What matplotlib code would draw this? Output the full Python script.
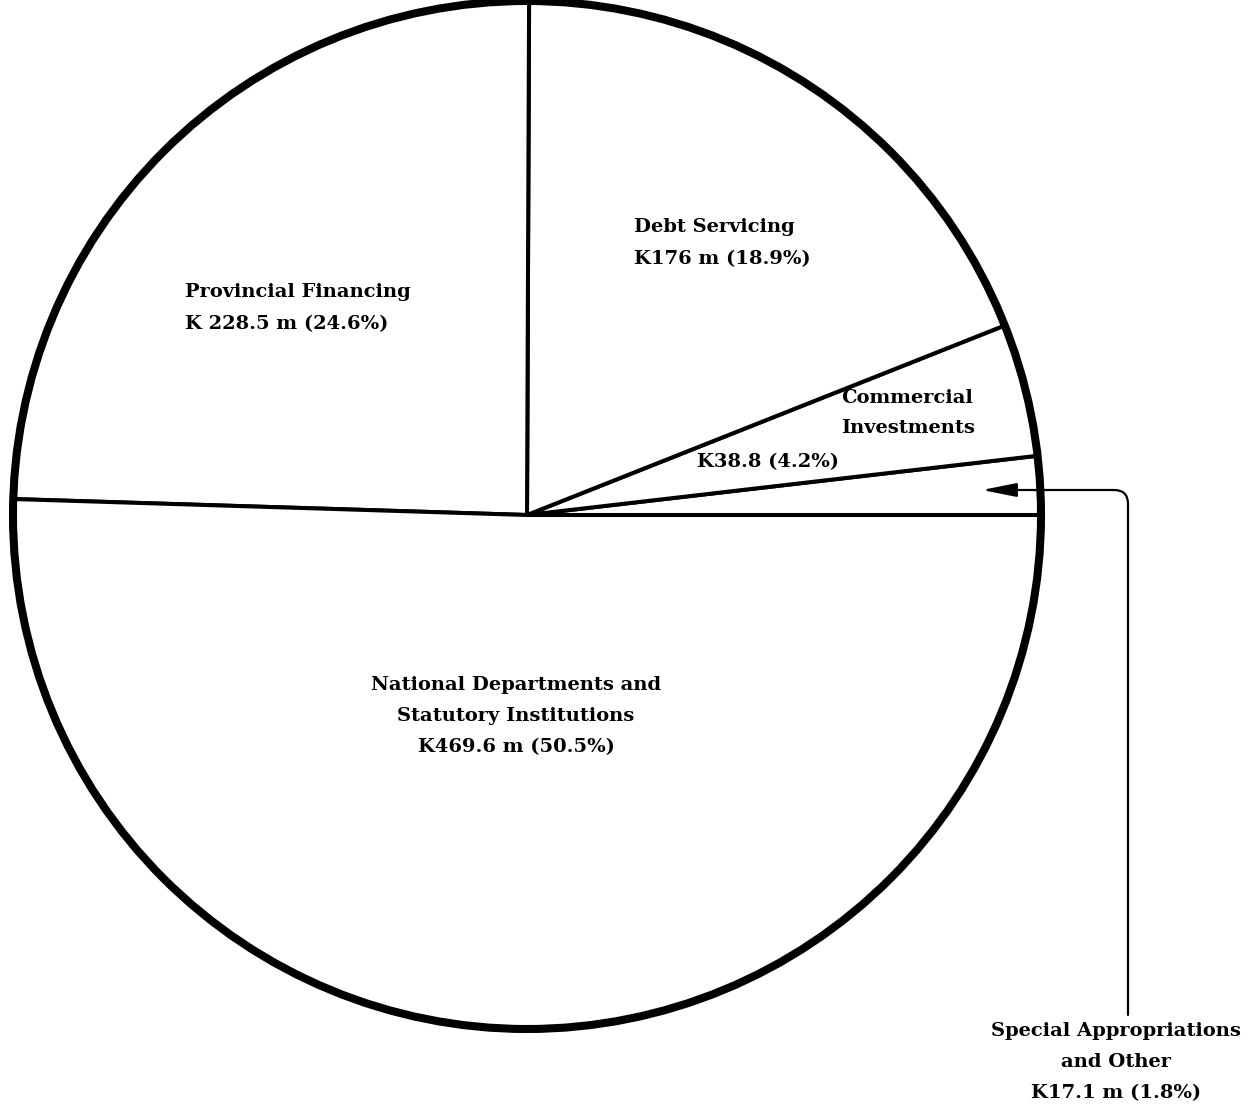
import matplotlib
matplotlib.use("Agg")
import matplotlib.pyplot as plt
from matplotlib.patches import Circle

# Budget allocation (K million), drawn counter-clockwise from the 3 o'clock position
categories = [
    "Special Appropriations and Other",
    "Commercial Investments",
    "Debt Servicing",
    "Provincial Financing",
    "National Departments and Statutory Institutions",
]
amounts = [17.1, 38.8, 176.0, 228.5, 469.6]

label_texts = [
    "Special Appropriations\nand Other\nK17.1 m (1.8%)",
    "Commercial\nInvestments",
    "Debt Servicing\nK176 m (18.9%)",
    "Provincial Financing\nK 228.5 m (24.6%)",
    "National Departments and\nStatutory Institutions\nK469.6 m (50.5%)",
]
commercial_value_text = "K38.8 (4.2%)"

W, H = 1254, 1109
fig = plt.figure(figsize=(W / 100, H / 100), dpi=100)
ax = fig.add_axes([0, 0, 1, 1])
ax.set_xlim(0, W)
ax.set_ylim(0, H)
ax.set_aspect("equal")
ax.axis("off")

cx, cy, r = 527, H - 515, 514

ax.pie(amounts, startangle=0, counterclock=True, center=(cx, cy), radius=r,
       colors=["white"] * len(amounts),
       wedgeprops=dict(edgecolor="black", linewidth=2.9))
ax.set_xlim(0, W)
ax.set_ylim(0, H)
ax.add_patch(Circle((cx, cy), r, fill=False, edgecolor="black", linewidth=5.8, zorder=5))

font = dict(family="DejaVu Serif", fontsize=14, fontweight="bold", color="black")

def y(py):
    return H - py

ax.text(634, y(243), label_texts[2], ha="left", va="center", multialignment="left",
        linespacing=2.0, **font)
ax.text(185, y(308), label_texts[3], ha="left", va="center", multialignment="left",
        linespacing=2.0, **font)
ax.text(841, y(413), label_texts[1], ha="left", va="center", multialignment="left",
        linespacing=1.85, **font)
ax.text(697, y(462), commercial_value_text, ha="left", va="center", **font)
ax.text(516, y(716), label_texts[4], ha="center", va="center", multialignment="center",
        linespacing=1.9, **font)
ax.text(1116, y(1062), label_texts[0], ha="center", va="center", multialignment="center",
        linespacing=1.95, **font)

# Pointer from the small slice's label up and into the slice
ax.annotate("", xy=(982, y(490)), xytext=(1128, y(1015)),
            arrowprops=dict(arrowstyle="-|>,head_length=1.4,head_width=0.28",
                            connectionstyle="angle,angleA=90,angleB=0,rad=14",
                            color="black", linewidth=1.6, mutation_scale=15,
                            shrinkA=0, shrinkB=0))

fig.savefig("out.png", dpi=100, facecolor="white")
